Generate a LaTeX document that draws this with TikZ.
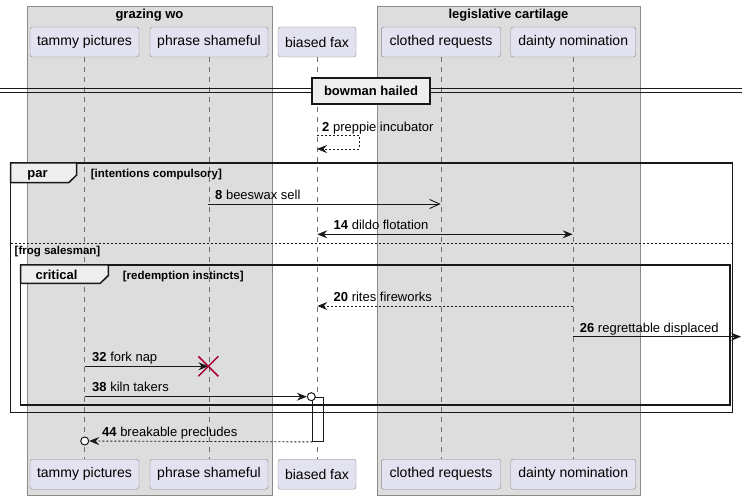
\documentclass[tikz,border=0pt]{standalone}
\usepackage{fontspec}
\setmainfont{Liberation Sans}
\usetikzlibrary{arrows.meta}
\definecolor{partfill}{HTML}{E2E2F0}
\definecolor{partdraw}{HTML}{8A8A8A}
\definecolor{boxfill}{HTML}{DDDDDD}
\definecolor{boxdraw}{HTML}{8A8A8A}
\definecolor{tabfill}{HTML}{EEEEEE}
\definecolor{lifecol}{HTML}{6E6E6E}
\definecolor{xred}{HTML}{A80036}
\definecolor{ink}{HTML}{181818}
\tikzset{
  part/.style={draw=partdraw, fill=partfill, rounded corners=2.5pt, minimum height=30pt, inner sep=0pt, font=\fontsize{14}{16}\selectfont, text=black},
  grp/.style={draw=boxdraw, fill=boxfill},
  life/.style={draw=lifecol, dash pattern=on 5pt off 5pt, line width=0.6pt},
  msg/.style={draw=ink, line width=0.9pt},
  dmsg/.style={draw=ink, line width=0.9pt, dash pattern=on 2pt off 2pt},
  tip/.style={-{Stealth[length=10pt,width=8pt,inset=3.5pt]}},
  bitip/.style={{Stealth[length=10pt,width=8pt,inset=3.5pt]}-{Stealth[length=10pt,width=8pt,inset=3.5pt]}},
  otip/.style={-{Straight Barb[length=10pt,width=9pt,line width=0.9pt]}},
  lbl/.style={font=\fontsize{13}{15}\selectfont, inner sep=0pt, anchor=base west},
  frm/.style={draw=ink, line width=1.5pt},
  glbl/.style={font=\bfseries\fontsize{11.5}{13}\selectfont, inner sep=0pt, anchor=base west},
  tlbl/.style={font=\bfseries\fontsize{13}{15}\selectfont, inner sep=0pt},
  circ/.style={circle, draw=ink, line width=1pt, fill=white, minimum size=8pt, inner sep=0pt},
}
\begin{document}
\begin{tikzpicture}[x=1pt,y=-1pt]
\useasboundingbox (0,0) rectangle (748,500);
% group boxes
\node[grp, minimum width=245.6pt, minimum height=489pt, inner sep=0pt, anchor=north west] (gw) at (26.7,6) {};
\node[tlbl] (gwt) at (149.5,15.5) {grazing wo};
\node[grp, minimum width=262.4pt, minimum height=489pt, inner sep=0pt, anchor=north west] (lc) at (377.3,6) {};
\node[tlbl] (lct) at (508.5,15.5) {legislative cartilage};
% participants top
\node[part, minimum width=109pt] (tA) at (84.5,42) {tammy pictures};
\node[part, minimum width=118pt] (tB) at (209,42) {phrase shameful};
\node[part, minimum width=78pt] (tC) at (317,42) {biased fax};
\node[part, minimum width=119.4pt] (tD) at (441,42) {clothed requests};
\node[part, minimum width=125pt] (tE) at (573.2,42) {dainty nomination};
% participants bottom
\node[part, minimum width=109pt] (bA) at (84.5,474.2) {tammy pictures};
\node[part, minimum width=118pt] (bB) at (209,474.2) {phrase shameful};
\node[part, minimum width=78pt] (bC) at (317,474.2) {biased fax};
\node[part, minimum width=119.4pt] (bD) at (441,474.2) {clothed requests};
\node[part, minimum width=125pt] (bE) at (573.2,474.2) {dainty nomination};
% lifelines
\draw[life] (tA.south) -- (bA.north);
\draw[life] (tB.south) -- (bB.north);
\draw[life] (tC.south) -- (bC.north);
\draw[life] (tD.south) -- (bD.north);
\draw[life] (tE.south) -- (bE.north);
% divider
\coordinate (dvl) at (0,90.5);
\coordinate (dvr) at (742,90.5);
\draw[ink, line width=0.9pt] ([yshift=-2.3pt]dvl) -- ([yshift=-2.3pt]dvr);
\draw[ink, line width=0.9pt] ([yshift=2.3pt]dvl) -- ([yshift=2.3pt]dvr);
\node[draw=ink, line width=1.5pt, fill=tabfill, minimum width=118pt, minimum height=26pt, inner sep=0pt, font=\bfseries\fontsize{13}{15}\selectfont] (dv) at (371,91) {bowman hailed};
% message 2 (self)
\coordinate (s2a) at (317,135.5);
\coordinate (s2b) at (359.3,135.5);
\coordinate (s2c) at (359.3,149);
\coordinate (s2d) at (317,149);
\draw[dmsg, tip] (s2a) -- (s2b) -- (s2c) -- (s2d);
\node[lbl] (l2) at (322,132) {\textbf{2} preppie incubator};
% par frame
\coordinate (parNW) at (10.7,163);
\coordinate (parSE) at (732.7,412.3);
\draw[frm] (parNW) rectangle (parSE);
\draw[frm, fill=tabfill] (10.7,163) -- (76.7,163) -- (76.7,175) -- (68.7,182.7) -- (10.7,182.7) -- cycle;
\node[font=\bfseries\fontsize{13}{15}\selectfont, inner sep=0pt, anchor=base] (partab) at (37.5,177.5) {par};
\node[glbl] (parg) at (90.7,177.2) {[intentions compulsory]};
% message 8
\coordinate (m8a) at (208.3,204);
\coordinate (m8b) at (440.7,204);
\draw[msg, otip] (m8a) -- (m8b);
\node[lbl] (l8) at (215,199.5) {\textbf{8} beeswax sell};
% message 14
\coordinate (m14a) at (317.3,234.3);
\coordinate (m14b) at (572.7,234.3);
\draw[msg, bitip] (m14a) -- (m14b);
\node[lbl] (l14) at (333.5,229.5) {\textbf{14} dildo flotation};
% else separator
\coordinate (elsel) at (10.7,243);
\coordinate (elser) at (732.7,243);
\draw[ink, line width=0.8pt, dash pattern=on 2pt off 2pt] (elsel) -- (elser);
\node[glbl] (elsg) at (14.5,254.5) {[frog salesman]};
% critical frame
\draw[frm] (20.7,265) rectangle (730,405);
\draw[frm, fill=tabfill] (20.7,265) -- (108.3,265) -- (108.3,275.5) -- (100.3,283.3) -- (20.7,283.3) -- cycle;
\node[font=\bfseries\fontsize{13}{15}\selectfont, inner sep=0pt, anchor=base] (crtab) at (56.5,279.5) {critical};
\node[glbl] (crg) at (122.7,279.2) {[redemption instincts]};
% message 20
\coordinate (m20a) at (572.7,306);
\coordinate (m20b) at (317.3,306);
\draw[dmsg, tip] (m20a) -- (m20b);
\node[lbl] (l20) at (333.5,301.5) {\textbf{20} rites fireworks};
% message 26 (lost)
\coordinate (m26a) at (572.7,336.7);
\coordinate (m26b) at (741,336.7);
\draw[msg, tip] (m26a) -- (m26b);
\node[lbl] (l26) at (579.7,332) {\textbf{26} regrettable displaced};
% message 32 with destroy
\coordinate (m32a) at (84.7,366.3);
\coordinate (m32b) at (208.3,366.3);
\draw[msg, tip] (m32a) -- (m32b);
\node[lbl] (l32) at (92,361.5) {\textbf{32} fork nap};
\draw[xred, line width=1.5pt] ([shift={(-10,-10)}]m32b) -- ([shift={(10,10)}]m32b);
\draw[xred, line width=1.5pt] ([shift={(-10,10)}]m32b) -- ([shift={(10,-10)}]m32b);
% activation bar
\node[draw=ink, fill=white, line width=0.9pt, minimum width=10.4pt, minimum height=44.3pt, inner sep=0pt, anchor=north west] (act) at (312.3,396.7) {};
% message 38
\coordinate (m38a) at (84.7,396.7);
\node[circ] (c38) at (311.3,396.7) {};
\draw[msg, tip] (m38a) -- (c38.west);
\node[lbl] (l38) at (92,391.5) {\textbf{38} kiln takers};
% redraw frame bottoms over the bar
\draw[frm] (20.7,405) -- (730,405);
\draw[frm] (10.7,412.3) -- (732.7,412.3);
% message 44
\node[circ] (c44) at (84.7,441) {};
\draw[dmsg, tip] (act.south west) -- (c44.east);
\node[lbl] (l44) at (102,436) {\textbf{44} breakable precludes};
\end{tikzpicture}
\end{document}
